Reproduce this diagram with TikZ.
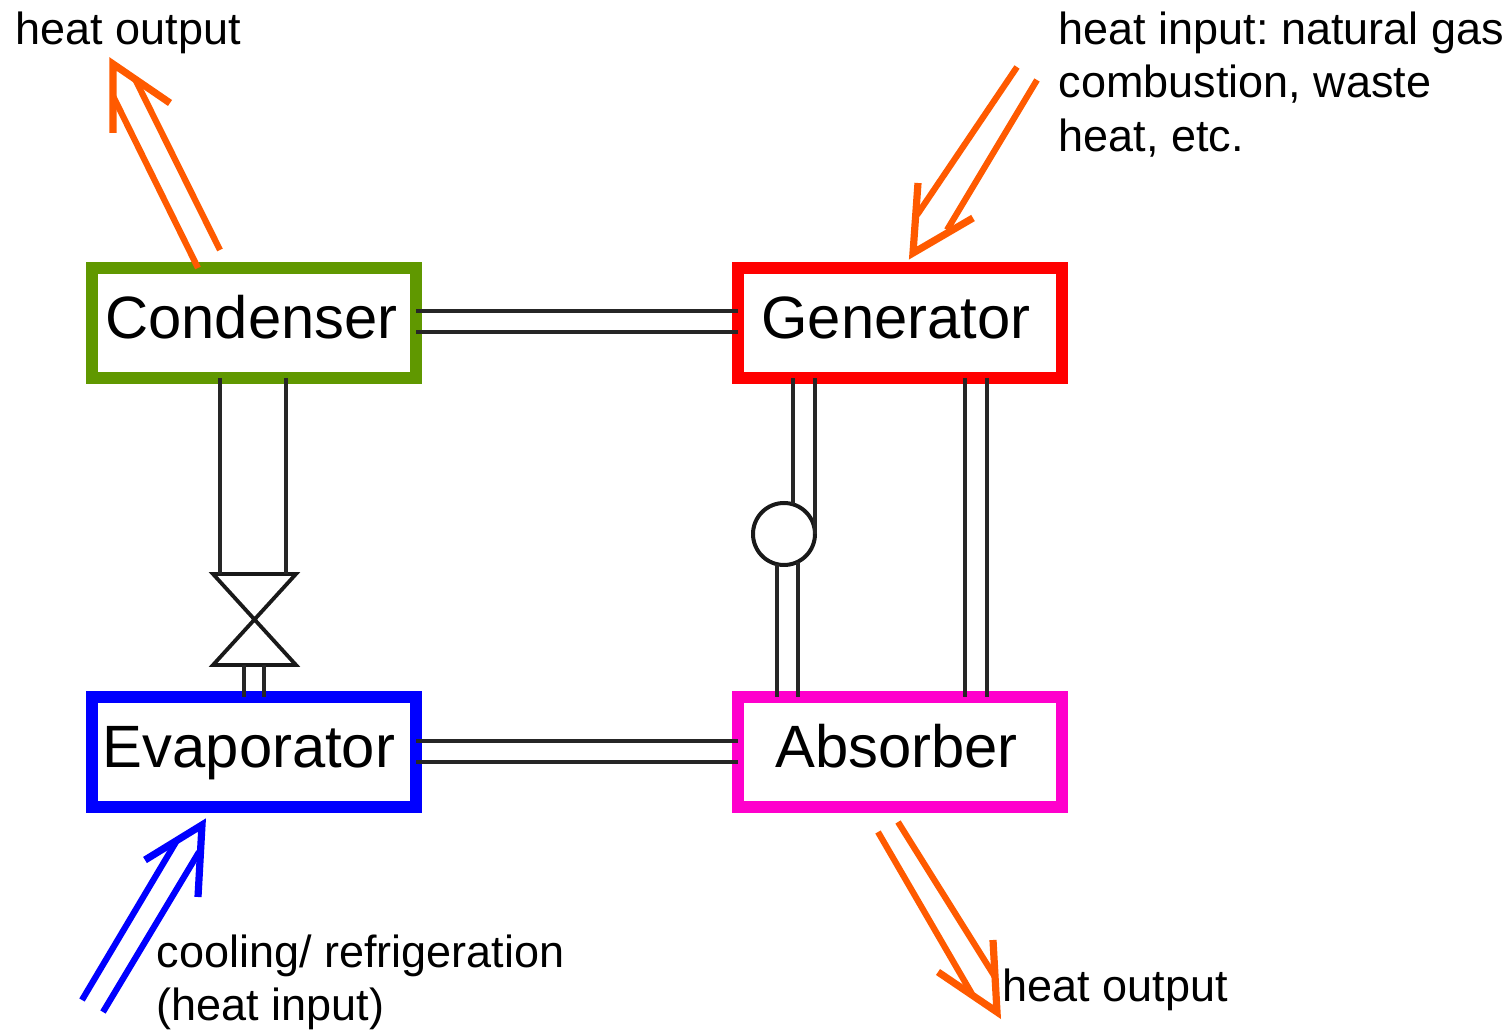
\documentclass[tikz,border=0pt]{standalone}
\usepackage{fontspec}
\setmainfont{Liberation Sans}
\usetikzlibrary{positioning,calc}
\definecolor{heatorange}{RGB}{255,90,0}
\definecolor{condgreen}{RGB}{96,152,0}
\definecolor{absmagenta}{RGB}{255,0,204}
\begin{document}
\frenchspacing
\begin{tikzpicture}[
    unit/.style={rectangle, draw, line width=1.25mm, minimum width=3.24cm, minimum height=1.1cm, outer sep=0pt, inner sep=0pt, text height=0.31cm, text depth=0pt, font=\fontsize{17}{19}\selectfont},
    pipe/.style={draw=black!85, line width=0.36mm},
    heatline/.style={line width=0.62mm, miter limit=10},
    heathead/.style={line width=0.72mm, miter limit=10},
    label/.style={anchor=north west, inner sep=0pt, align=left, font=\fontsize{12.8}{15.25}\selectfont},
    pumpcircle/.style={circle, draw=black!90, line width=0.4mm, minimum size=0.62cm, inner sep=0pt, outer sep=0pt, fill=white}
]
\useasboundingbox (0,0) rectangle (15.12,10.30);

% Four units
\node[unit, draw=condgreen] (cond) at (2.54, 7.07) {Condenser\kern0.05cm};
\node[unit, draw=red] (gen) at (9.00, 7.07) {Generator\kern0.08cm};
\node[unit, draw=blue] (evap) at (2.54, 2.78) {Evaporator\kern0.1cm};
\node[unit, draw=absmagenta] (abs) at (9.00, 2.78) {Absorber\kern0.07cm};

% Horizontal pipes
\draw[pipe] ([yshift=0.12cm]cond.east) -- ([yshift=0.12cm]gen.west);
\draw[pipe] ([yshift=-0.09cm]cond.east) -- ([yshift=-0.09cm]gen.west);
\draw[pipe] ([yshift=0.11cm]evap.east) -- ([yshift=0.11cm]abs.west);
\draw[pipe] ([yshift=-0.10cm]evap.east) -- ([yshift=-0.10cm]abs.west);

% Expansion valve
\coordinate (valveTL) at (2.13, 4.56);
\coordinate (valveTR) at (2.96, 4.56);
\coordinate (valveBL) at (2.13, 3.65);
\coordinate (valveBR) at (2.96, 3.65);
\draw[black!90, line width=0.38mm] (valveTL) -- (valveTR) -- (valveBL) -- (valveBR) -- cycle;
\draw[pipe] ([xshift=-0.34cm]cond.south) -- ([xshift=-0.34cm]cond.south |- valveTL);
\draw[pipe] ([xshift=0.32cm]cond.south) -- ([xshift=0.32cm]cond.south |- valveTL);
\draw[pipe] ([xshift=-0.10cm]evap.north) -- ([xshift=-0.10cm]evap.north |- valveBL);
\draw[pipe] ([xshift=0.10cm]evap.north) -- ([xshift=0.10cm]evap.north |- valveBL);

% Pump
\node[pumpcircle] (pump) at (7.84, 4.96) {};
\draw[pipe] (pump.73) -- (pump.73 |- gen.south);
\draw[pipe] (pump.0) -- (pump.0 |- gen.south);
\draw[pipe] (pump.-103) -- (pump.-103 |- abs.north);
\draw[pipe] (pump.-63) -- (pump.-63 |- abs.north);

% Return pipes
\draw[pipe] ([xshift=0.65cm]gen.south) -- ([xshift=0.65cm]abs.north);
\draw[pipe] ([xshift=0.87cm]gen.south) -- ([xshift=0.87cm]abs.north);

% Heat output, condenser
\coordinate (condTip) at (1.13, 9.66);
\draw[heatline, heatorange] ([xshift=-0.56cm]cond.north) -- (1.13, 9.34);
\draw[heatline, heatorange] (2.20, 7.80) -- (1.35, 9.51);
\draw[heathead, heatorange] (1.13, 8.97) -- (condTip) -- (1.70, 9.27);

% Heat input, generator
\coordinate (genTip) at (9.13, 7.77);
\draw[heatline, heatorange] (10.17, 9.63) -- (9.17, 8.15);
\draw[heatline, heatorange] (10.37, 9.50) -- (9.47, 8.00);
\draw[heathead, heatorange] (9.18, 8.47) -- (genTip) -- (9.73, 8.12);

% Cooling, evaporator
\coordinate (evapTip) at (2.02, 2.05);
\draw[heatline, blue] (0.82, 0.30) -- (1.76, 1.88);
\draw[heatline, blue] (1.03, 0.18) -- (1.99, 1.78);
\draw[heathead, blue] (1.45, 1.70) -- (evapTip) -- (1.98, 1.33);

% Heat output, absorber
\coordinate (absTip) at (9.97, 0.18);
\draw[heatline, heatorange] (8.78, 1.98) -- (9.72, 0.36);
\draw[heatline, heatorange] (8.98, 2.08) -- (9.95, 0.53);
\draw[heathead, heatorange] (9.93, 0.90) -- (absTip) -- (9.38, 0.58);

% Labels
\node[label] (lblCond) at (0.15, 10.19) {heat output};
\node[label] (lblGen) at (10.58, 10.19) {heat input: natural gas\\combustion, waste\\heat, etc.};
\node[label] (lblEvap) at (1.56, 0.96) {cooling/ refrigeration\\(heat input)};
\node[label] (lblAbs) at (10.02, 0.62) {heat output};
\end{tikzpicture}
\end{document}
